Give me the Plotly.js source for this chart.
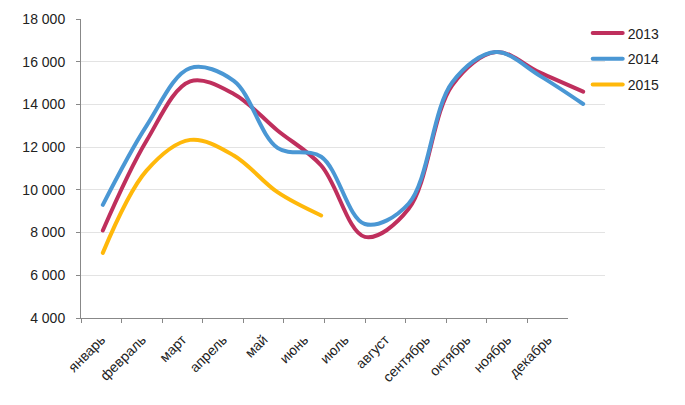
<!DOCTYPE html>
<html>
<head>
<meta charset="utf-8">
<script src="https://cdn.plot.ly/plotly-3.0.1.min.js"></script>
<style>
  html, body { margin: 0; padding: 0; background: #fff; }
  #chart { width: 685px; height: 405px; }
</style>
</head>
<body>
<div id="chart"></div>
<script>
const months = ["январь", "февраль", "март", "апрель", "май", "июнь", "июль", "август", "сентябрь", "октябрь", "ноябрь", "декабрь"];
const seriesNames = ["2013", "2014", "2015"];
const values2013 = [8100, 12300, 15080, 14490, 12780, 11140, 7800, 9100, 14900, 16450, 15500, 14600];
const values2014 = [9300, 13000, 15700, 15100, 11970, 11550, 8400, 9350, 15030, 16450, 15350, 14020];
const values2015 = [7050, 10900, 12340, 11610, 9890, 8800];
const yTicks = [4000, 6000, 8000, 10000, 12000, 14000, 16000, 18000];

const colors = ["#BF2F5D", "#4A97D4", "#FFB80A"];
const allValues = [values2013, values2014, values2015];

const traces = allValues.map((vals, i) => ({
  type: "scatter",
  mode: "lines",
  name: seriesNames[i],
  x: months.slice(0, vals.length),
  y: vals,
  xaxis: "x2",
  yaxis: "y",
  legendgroup: seriesNames[i],
  line: { color: colors[i], width: 4, shape: "spline", smoothing: 1 },
  hoverinfo: "x+y+name"
}));

// invisible carrier trace for the labelled category axis
traces.unshift({
  type: "scatter",
  mode: "lines",
  x: months,
  y: months.map(() => null),
  xaxis: "x",
  yaxis: "y",
  showlegend: false,
  hoverinfo: "skip"
});

const axisFont = { family: "Liberation Sans, Arial, sans-serif", size: 14, color: "#222" };

const layout = {
  width: 685,
  height: 405,
  margin: { l: 81, r: 80, t: 19, b: 87, pad: 0 },
  paper_bgcolor: "#ffffff",
  plot_bgcolor: "rgba(0,0,0,0)",
  separators: ", ",
  showlegend: true,
  legend: {
    x: 0.967, xanchor: "left",
    y: 1.005, yanchor: "top",
    bgcolor: "rgba(0,0,0,0)",
    font: axisFont,
    traceorder: "grouped",
    tracegroupgap: 4.5
  },
  xaxis: {
    type: "category",
    categoryorder: "array",
    categoryarray: months,
    range: [-0.5, 11.5],
    domain: [0, 0.9294],
    anchor: "y",
    showline: true,
    linecolor: "#888888",
    linewidth: 1,
    ticks: "outside",
    tickson: "boundaries",
    ticklen: 4,
    tickcolor: "#888888",
    tickangle: -45,
    ticklabelstandoff: 7,
    tickfont: { family: "Liberation Sans, Arial, sans-serif", size: 14, color: "#222" },
    showgrid: false,
    zeroline: false,
    fixedrange: true
  },
  xaxis2: {
    type: "category",
    categoryorder: "array",
    categoryarray: months,
    range: [-0.5, 11.5],
    domain: [0, 1],
    anchor: "y",
    visible: false,
    showgrid: false,
    zeroline: false,
    fixedrange: true
  },
  yaxis: {
    range: [4000, 18000],
    tickvals: yTicks,
    tickformat: ",d",
    separatethousands: true,
    anchor: "x2",
    showline: true,
    linecolor: "#888888",
    linewidth: 1,
    ticks: "outside",
    ticklen: 4,
    tickcolor: "#888888",
    ticklabelstandoff: 8,
    tickfont: axisFont,
    showgrid: true,
    gridcolor: "#e3e3e3",
    gridwidth: 1,
    zeroline: false,
    fixedrange: true
  }
};

Plotly.newPlot("chart", traces, layout, { displayModeBar: false, staticPlot: true }).then(() => {
  document.querySelectorAll("#chart .js-line").forEach(p => {
    p.style.strokeLinecap = "round";
    p.style.strokeLinejoin = "round";
  });
});
</script>
</body>
</html>
